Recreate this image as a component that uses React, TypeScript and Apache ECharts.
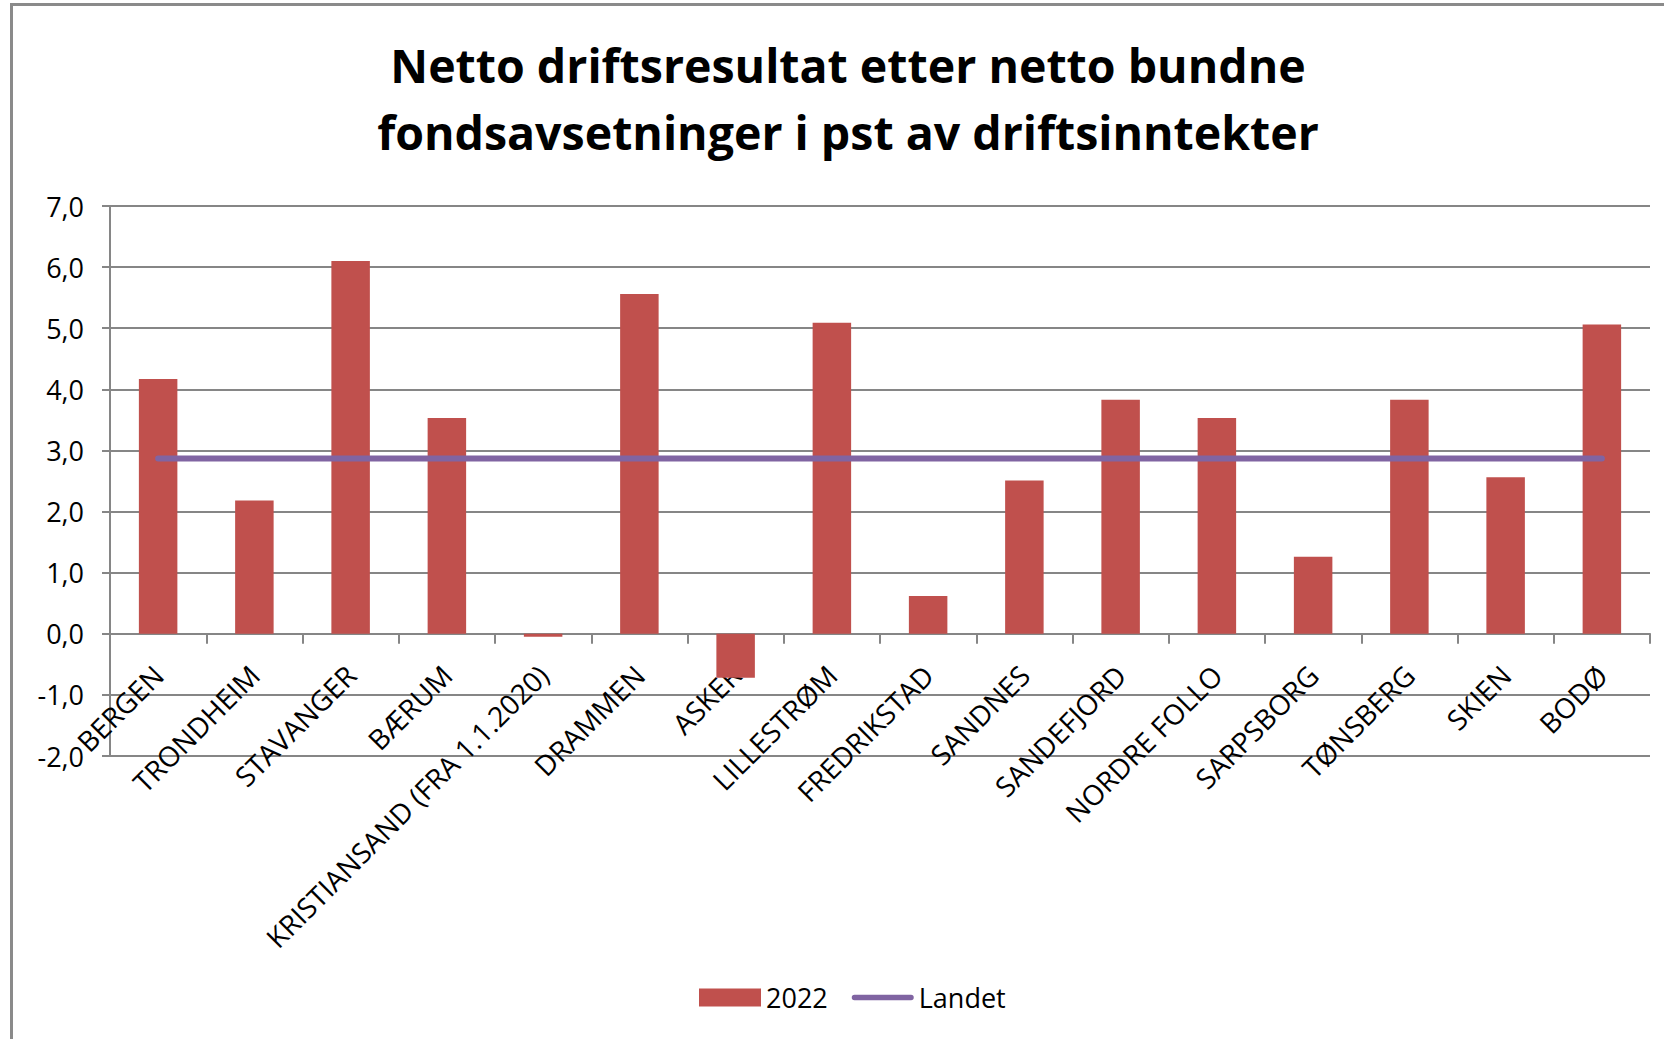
import React, { useEffect, useRef } from "react";
import * as echarts from "echarts";

const categories = [
  "BERGEN",
  "TRONDHEIM",
  "STAVANGER",
  "BÆRUM",
  "KRISTIANSAND (FRA 1.1.2020)",
  "DRAMMEN",
  "ASKER",
  "LILLESTRØM",
  "FREDRIKSTAD",
  "SANDNES",
  "SANDEFJORD",
  "NORDRE FOLLO",
  "SARPSBORG",
  "TØNSBERG",
  "SKIEN",
  "BODØ",
];

const values2022 = [
  4.17, 2.18, 6.1, 3.53, -0.05, 5.56, -0.72, 5.09, 0.62, 2.51, 3.83, 3.53, 1.26,
  3.83, 2.56, 5.06,
];

const landet = [
  2.87, 2.87, 2.87, 2.87, 2.87, 2.87, 2.87, 2.87, 2.87, 2.87, 2.87, 2.87, 2.87,
  2.87, 2.87, 2.87,
];

const titleLines = [
  "Netto driftsresultat etter netto bundne",
  "fondsavsetninger i pst av driftsinntekter",
];

const seriesNames = ["2022", "Landet"];

const FONT = "'Open Sans', 'Noto Sans', sans-serif";
const GRID_COLOR = "#868686";
const BAR_COLOR = "#C0504D";
const LINE_COLOR = "#8064A2";

export default function App() {
  const ref = useRef<HTMLDivElement>(null);

  useEffect(() => {
    if (!ref.current) return;
    const chart = echarts.init(ref.current, undefined, { renderer: "svg" });
    chart.setOption({
      animation: false,
      backgroundColor: "#ffffff",
      textStyle: { fontFamily: FONT },
      graphic: [
        {
          type: "rect",
          shape: { x: 11.5, y: 4.5, width: 2000, height: 2000 },
          style: { fill: "none", stroke: "#8a8a8a", lineWidth: 3 },
          z: 10,
        },
        {
          type: "text",
          x: 848,
          y: 65,
          style: {
            text: titleLines[0],
            textAlign: "center",
            textVerticalAlign: "middle",
            fontFamily: FONT,
            fontWeight: "bold",
            fontSize: 46.5,
            fill: "#000000",
          },
        },
        {
          type: "text",
          x: 848,
          y: 132,
          style: {
            text: titleLines[1],
            textAlign: "center",
            textVerticalAlign: "middle",
            fontFamily: FONT,
            fontWeight: "bold",
            fontSize: 46.5,
            fill: "#000000",
          },
        },
      ],
      legend: {
        left: 694,
        top: 979,
        itemWidth: 62,
        itemHeight: 18,
        itemGap: 24,
        textStyle: { fontFamily: FONT, fontSize: 27, color: "#000000" },
        data: [
          { name: seriesNames[0], icon: "rect" },
          {
            name: seriesNames[1],
            icon: "path://M3,0 L65,0 A3,3 0 0 1 65,6 L3,6 A3,3 0 0 1 3,0 Z",
            itemStyle: { color: LINE_COLOR },
          },
        ],
      },
      grid: { left: 110, right: 14, top: 206, bottom: 283 },
      xAxis: {
        type: "category",
        data: categories,
        boundaryGap: true,
        axisLine: {
          show: true,
          onZero: true,
          lineStyle: { color: GRID_COLOR, width: 2 },
        },
        axisTick: {
          show: true,
          alignWithLabel: false,
          interval: 0,
          length: 10,
          lineStyle: { color: GRID_COLOR, width: 2 },
        },
        axisLabel: {
          interval: 0,
          rotate: 45,
          margin: -86,
          fontFamily: FONT,
          fontSize: 28,
          color: "#000000",
        },
        splitLine: { show: false },
      },
      yAxis: {
        type: "value",
        min: -2,
        max: 7,
        interval: 1,
        axisLine: { show: true, lineStyle: { color: GRID_COLOR, width: 2 } },
        axisTick: {
          show: true,
          length: 8,
          lineStyle: { color: GRID_COLOR, width: 2 },
        },
        axisLabel: {
          margin: 26,
          fontFamily: FONT,
          fontSize: 27,
          color: "#000000",
          formatter: (v: number) => v.toFixed(1).replace(".", ","),
        },
        splitLine: { show: true, lineStyle: { color: GRID_COLOR, width: 2 } },
      },
      series: [
        {
          name: seriesNames[0],
          type: "bar",
          data: values2022,
          barWidth: "40%",
          itemStyle: { color: BAR_COLOR },
        },
        {
          name: seriesNames[1],
          type: "line",
          data: landet,
          symbol: "none",
          lineStyle: { color: LINE_COLOR, width: 6, cap: "round" },
          itemStyle: { color: LINE_COLOR },
          z: 5,
        },
      ],
    });
    return () => chart.dispose();
  }, []);

  return (
    <div
      ref={ref}
      style={{ position: "fixed", left: 0, top: 0, width: 1664, height: 1039 }}
    />
  );
}
